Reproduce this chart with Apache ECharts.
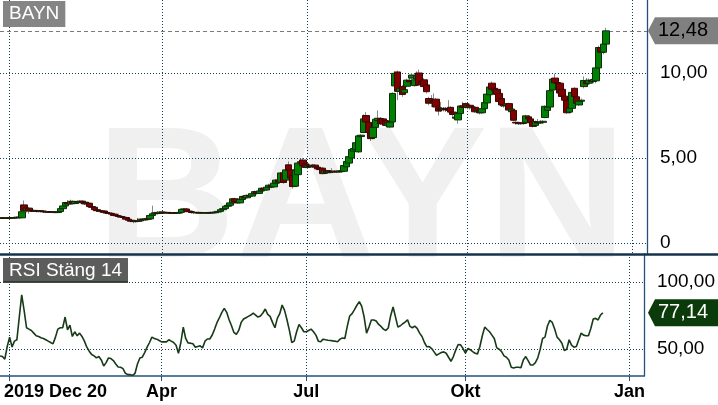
<!DOCTYPE html>
<html><head><meta charset="utf-8">
<script src="https://cdn.jsdelivr.net/npm/echarts@6/dist/echarts.min.js"></script>
<style>html,body{margin:0;padding:0;background:#fff}#c{width:718px;height:405px}</style>
</head><body><div id="c"></div>
<script>
// [open, close, low, high] per trading day from 2019-12-20
const ohlc = [
[1.48,1.46,1.42,1.52],[1.46,1.47,1.43,1.50],[1.47,1.45,1.42,1.50],[1.45,1.48,1.43,1.51],[1.48,1.46,1.43,1.52],
[1.46,1.50,1.44,1.53],[1.50,1.47,1.44,1.54],[1.47,1.52,1.45,1.56],[1.52,1.50,1.46,1.58],[1.48,1.84,1.46,1.90],
[2.24,1.90,1.86,2.50],[1.92,2.05,1.80,2.12],[2.05,1.88,1.72,2.10],[1.88,1.92,1.82,1.98],[1.92,1.86,1.82,1.96],
[1.86,1.90,1.80,1.94],[1.90,1.85,1.80,1.93],[1.85,1.88,1.80,1.92],[1.88,1.84,1.78,1.92],[1.84,1.82,1.76,1.88],
[1.82,1.84,1.78,1.88],[1.84,1.80,1.76,1.87],[1.80,1.82,1.76,1.86],[1.82,1.79,1.75,1.85],[1.79,1.85,1.76,1.88],
[1.85,2.02,1.82,2.05],[2.02,2.18,1.98,2.22],[2.18,2.38,2.12,2.42],[2.38,2.30,2.25,2.52],[2.30,2.45,2.26,2.55],
[2.45,2.32,2.28,2.50],[2.32,2.44,2.28,2.48],[2.44,2.40,2.34,2.50],[2.40,2.46,2.36,2.52],[2.46,2.36,2.32,2.50],
[2.40,2.30,2.26,2.44],[2.30,2.34,2.24,2.40],[2.34,2.14,2.10,2.36],[2.14,2.10,2.04,2.20],[2.10,1.96,1.90,2.12],
[1.96,1.90,1.84,2.00],[1.90,1.86,1.80,1.94],[1.86,1.88,1.78,1.92],[1.88,1.80,1.74,1.92],[1.80,1.76,1.70,1.84],
[1.76,1.74,1.68,1.82],[1.74,1.70,1.66,1.80],[1.70,1.62,1.58,1.74],[1.62,1.60,1.54,1.66],[1.60,1.56,1.52,1.72],
[1.56,1.52,1.48,1.62],[1.52,1.50,1.44,1.58],[1.50,1.40,1.36,1.54],[1.40,1.34,1.28,1.46],[1.34,1.28,1.22,1.40],
[1.28,1.26,1.16,1.34],[1.26,1.30,1.20,1.36],[1.30,1.28,1.22,1.48],[1.30,1.40,1.26,1.44],[1.40,1.36,1.30,1.46],
[1.36,1.42,1.32,1.48],[1.42,1.40,1.34,1.52],[1.42,1.62,1.40,1.66],[1.62,1.72,1.58,2.20],[1.72,1.78,1.66,1.84],
[1.78,1.74,1.68,1.86],[1.74,1.82,1.70,1.86],[1.82,1.78,1.72,1.86],[1.78,1.80,1.74,1.84],[1.80,1.76,1.72,1.84],
[1.76,1.79,1.72,1.83],[1.79,1.75,1.70,1.82],[1.75,1.78,1.72,1.82],[1.78,1.76,1.70,1.80],[1.76,1.80,1.72,1.84],
[1.80,1.98,1.78,2.02],[1.98,2.00,1.90,2.04],[2.00,1.88,1.84,2.02],[1.88,1.84,1.80,1.92],[1.84,1.80,1.74,1.88],
[1.80,1.78,1.72,1.84],[1.78,1.80,1.74,1.82],[1.80,1.76,1.72,1.84],[1.76,1.79,1.73,1.82],[1.79,1.77,1.72,1.83],
[1.77,1.78,1.74,1.82],[1.78,1.76,1.72,1.82],[1.76,1.80,1.73,1.84],[1.80,1.78,1.74,1.84],[1.78,1.82,1.75,1.86],
[1.82,1.86,1.78,1.90],[1.86,1.96,1.82,2.00],[1.96,2.02,1.92,2.06],[2.02,2.16,1.98,2.20],[2.16,2.22,2.10,2.26],
[2.22,2.36,2.18,2.42],[2.36,2.60,2.32,2.64],[2.60,2.42,2.38,2.66],[2.42,2.36,2.32,2.50],[2.36,2.56,2.34,2.60],
[2.56,2.74,2.52,2.80],[2.74,2.66,2.60,2.82],[2.66,2.80,2.62,2.86],[2.80,2.76,2.70,2.88],[2.76,2.90,2.72,2.96],
[2.90,3.02,2.84,3.08],[3.02,2.92,2.86,3.08],[2.92,3.06,2.88,3.12],[3.06,3.22,3.00,3.28],[3.22,3.12,3.04,3.30],
[3.12,3.28,3.08,3.34],[3.28,3.40,3.22,3.48],[3.40,3.30,3.22,3.46],[3.30,3.52,3.26,3.58],[3.52,3.70,3.46,3.76],
[3.70,3.58,3.50,3.80],[3.58,4.12,3.54,4.18],[4.12,3.56,3.48,4.16],[3.70,4.30,3.64,4.40],[4.60,4.28,4.20,4.80],
[4.30,3.82,3.76,4.36],[3.98,3.32,3.20,4.02],[3.34,4.28,3.30,4.34],[4.02,4.70,3.96,4.80],[4.70,4.78,4.62,4.96],
[4.88,4.54,4.48,5.00],[4.66,4.44,4.40,4.72],[4.44,4.56,4.38,4.62],[4.56,4.50,4.44,4.66],[4.50,4.58,4.44,4.64],
[4.58,4.46,4.40,4.62],[4.46,4.36,4.28,4.56],[4.40,4.32,4.26,4.46],[4.40,4.08,4.04,4.44],[4.10,4.26,4.06,4.30],
[4.26,4.14,4.10,4.30],[4.14,4.22,4.10,4.26],[4.22,4.18,4.12,4.40],[4.18,4.22,4.14,4.26],[4.22,4.18,4.12,4.26],
[4.18,4.24,4.14,4.28],[4.24,4.20,4.14,4.30],[4.22,4.56,4.18,4.62],[4.48,4.80,4.42,4.86],[4.70,5.08,4.64,5.14],
[5.00,5.50,4.96,5.56],[5.40,5.56,5.30,5.64],[5.50,5.90,5.40,5.96],[5.36,6.30,5.30,6.36],[6.26,6.34,6.20,6.40],
[6.50,7.30,6.46,7.56],[7.50,7.12,7.00,7.70],[7.10,6.50,6.40,7.20],[6.50,6.14,6.00,6.56],[6.20,6.80,6.10,6.86],
[6.80,7.28,6.72,7.34],[7.20,7.34,7.14,7.80],[7.32,7.02,6.96,7.40],[7.30,7.00,6.94,7.36],[7.20,6.92,6.86,7.24],
[6.92,7.06,6.80,7.14],[6.82,7.10,6.76,7.16],[7.12,8.80,7.06,8.86],[9.24,9.98,9.10,10.10],[10.06,8.92,8.40,10.14],
[8.92,9.10,8.70,9.24],[9.20,8.74,8.60,9.30],[8.84,9.02,8.70,9.10],[9.22,9.58,9.16,9.66],[9.56,9.48,9.30,9.70],
[9.70,9.88,9.62,10.00],[9.26,9.60,9.20,9.70],[9.64,9.86,9.56,10.10],[10.00,9.30,9.24,10.20],[9.50,9.40,9.20,9.70],
[9.60,9.20,9.10,9.70],[9.30,8.90,8.80,9.40],[8.50,8.22,8.10,8.60],[8.30,8.36,8.00,8.70],[8.36,8.28,8.10,8.80],
[8.46,8.00,7.90,8.54],[7.96,7.76,7.50,8.10],[7.90,7.84,7.72,8.30],[7.84,7.92,7.74,8.00],[7.92,7.86,7.70,8.00],
[7.86,7.80,7.70,8.40],[7.98,7.70,7.64,8.04],[7.70,7.56,7.40,7.80],[7.40,7.34,7.28,7.50],[7.24,7.62,7.02,7.66],
[7.62,8.06,7.56,8.12],[8.06,7.98,7.80,8.30],[8.20,8.02,7.90,8.26],[8.00,8.10,7.86,8.16],[8.10,7.96,7.84,8.20],
[7.96,8.00,7.82,8.08],[7.98,7.72,7.66,8.04],[7.72,7.80,7.62,7.86],[7.80,7.66,7.56,7.88],[7.66,7.90,7.60,7.96],
[7.90,8.26,7.84,8.32],[8.24,8.76,8.20,8.82],[8.72,9.18,8.66,9.24],[9.40,9.04,8.96,9.50],[9.10,8.96,8.80,9.20],
[9.04,8.74,8.66,9.10],[8.80,8.32,8.26,8.90],[8.50,8.12,8.00,8.56],[8.14,8.06,7.96,8.20],[8.10,8.18,7.98,8.24],
[8.20,7.82,7.76,8.26],[7.72,7.88,7.66,7.94],[7.80,7.22,7.16,7.86],[7.10,7.06,6.96,7.16],[7.06,7.02,6.94,7.12],
[7.02,7.06,6.96,7.10],[7.06,7.04,6.96,7.12],[7.08,7.48,7.04,7.54],[7.42,7.30,7.20,7.50],[7.30,7.08,7.02,7.36],
[7.14,6.86,6.80,7.20],[6.92,7.14,6.84,7.20],[7.10,7.06,6.96,7.30],[7.06,7.10,7.00,7.22],[7.10,7.16,7.02,7.22],
[7.38,8.04,7.34,8.10],[7.80,8.00,7.74,8.06],[8.00,8.96,7.96,9.04],[9.00,9.64,8.96,9.70],[9.70,9.42,9.36,9.96],
[9.44,9.38,9.30,9.56],[9.40,8.82,8.76,9.46],[9.04,8.62,8.56,9.10],[8.64,8.40,8.30,8.70],[8.40,7.66,7.60,8.46],
[7.70,7.92,7.62,7.98],[7.92,8.86,7.86,8.92],[9.10,8.62,8.56,9.16],[8.60,8.22,8.16,8.66],[8.12,8.34,8.06,8.40],
[8.34,8.40,8.26,8.50],[9.20,9.56,9.10,9.80],[9.50,9.36,9.20,9.70],[9.40,9.58,9.30,9.68],[9.56,9.50,9.40,9.66],
[9.50,9.62,9.40,9.74],[9.54,10.30,9.40,10.50],[10.30,11.50,10.20,11.60],[11.50,11.22,10.90,11.60],[11.22,11.70,11.10,11.90],
[11.70,12.48,11.60,12.66]
];
const rsi = [
45,44.5,42.6,52,59,51.6,56,57,74,90.5,
79,66,65,64,62,60,59.5,58.5,58,57,
56,55,54,59,65,66,66,74,64.5,68,
59.5,63,60,62,59.5,56,51.5,48.5,46,45,
43.5,44.5,42,37.5,40,43.5,43,41.5,39,36.7,
36.5,35.5,32,31,31,30.5,32,39,43.4,44,
47.5,51.5,55,59,58,57.5,56.5,55.5,55.5,55.5,
57,56,55,53,47,55,66.5,58,54.6,54.5,
54,51.5,52,52.5,51,56,57.6,57.6,60.6,65,
70,73.5,77.5,80.5,77.5,72,67.5,62.5,61,64,
70,72.5,73.5,74.5,75.5,77,75.5,74,74.8,77,
80,76,74.5,70,66,73,76.5,83,79,72,
64,55,56,63,68.5,66,63,63,64,65,
63,60.5,56,55.5,57.5,57,56.7,56.5,56.2,56,
55.5,57.5,58.4,58,67,74.8,76.5,79.5,82.8,85.5,
82,74,62,66.5,71.8,71.8,71,68.5,67,65,
64,65.8,75,81.5,74,66.5,67.5,69,70.2,72,
67,66,67.2,65.5,62,59.5,55,51.8,52,50.5,
48,45.5,46.5,47.5,48,47,44,41,44.5,49.5,
53.5,53.2,50.5,47,50.5,49.6,48.2,47,46.5,52,
60,66.5,64.7,63,60.5,57.8,51,50,48.2,45,
44,42,36.6,36,36.5,36.5,36.2,42,44.5,41.5,
38.2,38.2,40,43.5,50,58,59,67.3,71.5,70,
65,59,57,54.5,49,50,57,53,51.5,52,
57,62,60.5,60,60,65.5,72.5,73,71.8,75.5,
77.14
];
const priceTicks = [0, 5, 10];
const rsiTicks = [50, 100];
const monthNames = ['Jan','Feb','Mar','Apr','Maj','Jun','Jul','Aug','Sep','Okt','Nov','Dec'];
const holidays = ['2019-12-24','2019-12-25','2019-12-26','2019-12-31','2020-01-01','2020-01-06',
  '2020-04-10','2020-04-13','2020-05-01','2020-05-21','2020-06-19'];
const startDate = [2019, 11, 20];
const totalSlots = 268;

// trading days for the data, then plain calendar days for the empty future part of the axis
function buildDates() {
  const out = [];
  let t = Date.UTC(startDate[0], startDate[1], startDate[2]);
  while (out.length < totalSlots) {
    const d = new Date(t);
    const wd = d.getUTCDay();
    const s = d.toISOString().slice(0, 10);
    if (out.length >= ohlc.length || (wd !== 0 && wd !== 6 && holidays.indexOf(s) < 0)) out.push(s);
    t += 86400000;
  }
  return out;
}
const dates = buildDates();
function monthOf(i) { return +dates[i].slice(5, 7) - 1; }
function isQuarterStart(i) {
  if (i <= 0) return false;
  const m = monthOf(i);
  return m !== monthOf(i - 1) && m % 3 === 0;
}
function showLabel(i) { return i === 0 || (isQuarterStart(i) && i > 20); }
function fmt(v) { return v === 0 ? '0' : v.toFixed(2).replace('.', ','); }

const FONT = '"Liberation Sans", Arial, sans-serif';
const gridColor = '#173f52';
const axisBlue = '#26507c';
const lastClose = ohlc[ohlc.length - 1][1];
const lastRsi = rsi[rsi.length - 1];
const bodies = ohlc.map(r => [r[0], r[1], Math.min(r[0], r[1]), Math.max(r[0], r[1])]);
const dotted = { color: gridColor, type: [1, 2], width: 1 };

const chart = echarts.init(document.getElementById('c'), null, { renderer: 'canvas' });
chart.setOption({
  animation: false,
  backgroundColor: '#ffffff',
  title: [
    { text: 'BAYN', left: 3, top: 1, backgroundColor: '#858585', padding: [3, 6, 3, 6],
      textStyle: { color: '#ffffff', fontSize: 19, fontWeight: 'normal', fontFamily: FONT, lineHeight: 20 } },
    { text: 'RSI Stäng 14', left: 3, top: 258, backgroundColor: '#5c5c5c', padding: [3, 6, 2, 6],
      textStyle: { color: '#ffffff', fontSize: 19, fontWeight: 'normal', fontFamily: FONT, lineHeight: 20 } }
  ],
  grid: [
    { left: 0, right: 71, top: 0, height: 254 },
    { left: 0, right: 71, top: 254, height: 122 }
  ],
  xAxis: [
    { type: 'category', gridIndex: 0, data: dates, boundaryGap: false,
      axisLine: { show: false, onZero: false }, axisTick: { show: false }, axisLabel: { show: false },
      splitLine: { show: true, interval: (i) => isQuarterStart(i), lineStyle: dotted } },
    { type: 'category', gridIndex: 1, data: dates, boundaryGap: false,
      axisLine: { show: true, onZero: false, lineStyle: { color: axisBlue, width: 1.5 } },
      axisTick: { show: true, interval: (i) => isQuarterStart(i), length: 5, lineStyle: { color: axisBlue, width: 1 } },
      axisLabel: { show: true, interval: (i) => showLabel(i), margin: 7, alignMinLabel: 'left',
        color: '#000', fontSize: 18, fontWeight: 'bold', fontFamily: FONT,
        formatter: (v, i) => {
          const m = +v.slice(5, 7) - 1;
          if (i === 0) return '{f|' + v.slice(0, 4) + ' ' + monthNames[m] + ' ' + (+v.slice(8, 10)) + '}';
          return monthNames[m];
        },
        rich: { f: { color: '#000', fontSize: 18, fontWeight: 'bold', fontFamily: FONT, padding: [0, 0, 0, 4] } } },
      splitLine: { show: true, interval: (i) => isQuarterStart(i), lineStyle: dotted } }
  ],
  yAxis: [
    { type: 'value', gridIndex: 0, position: 'right', min: -11 / 17, max: 243 / 17,
      axisLine: { show: true, onZero: false, lineStyle: { color: axisBlue, width: 1.3 } },
      axisTick: { show: false }, splitLine: { show: false },
      axisLabel: { customValues: priceTicks, formatter: fmt, color: '#000', fontSize: 19, fontFamily: FONT, margin: 13 } },
    { type: 'value', gridIndex: 1, position: 'right', min: 30, max: 30 + 122 / 1.34,
      axisLine: { show: true, onZero: false, lineStyle: { color: axisBlue, width: 1.3 } },
      axisTick: { show: false }, splitLine: { show: false },
      axisLabel: { customValues: rsiTicks, formatter: fmt, color: '#000', fontSize: 19, fontFamily: FONT, margin: 13 } }
  ],
  graphic: [
    { id: 'wm', type: 'text', z: -1, silent: true, x: 96, y: 205, scaleX: 1.03,
      style: { text: 'BAYN', fontSize: 188, fontWeight: 'bold', fontFamily: FONT, fill: '#f0f0f0',
        align: 'left', verticalAlign: 'middle' } },
    { id: 'sep', type: 'rect', z: 10, silent: true, shape: { x: 0, y: 253.2, width: 718, height: 2.6 },
      style: { fill: '#17324b' } },
    { id: 'rsiUnder', type: 'rect', z: 10, silent: true, shape: { x: 3, y: 281, width: 125, height: 1.5 },
      style: { fill: '#2d3d2d' } }
  ],
  series: [
    { type: 'candlestick', name: 'wick', xAxisIndex: 0, yAxisIndex: 0, data: ohlc, barWidth: 0.1, z: 2,
      itemStyle: { color: '#8a8a8a', color0: '#8a8a8a', borderColor: '#8a8a8a', borderColor0: '#8a8a8a', borderWidth: 1 },
      markLine: { z: 1, silent: true, symbol: ['none', 'none'], label: { show: false },
        data: [{ yAxis: lastClose, lineStyle: { color: '#7a7a7a', type: [4, 3], width: 1 } }] } },
    { type: 'candlestick', name: 'BAYN', xAxisIndex: 0, yAxisIndex: 0, data: bodies, barWidth: 7, z: 3,
      itemStyle: { color: '#008000', color0: '#800000', borderColor: '#0b2e0b', borderColor0: '#3a0707', borderWidth: 1 },
      markLine: { z: 1, silent: true, symbol: ['none', 'none'], label: { show: false },
        data: priceTicks.map(v => ({ yAxis: v, lineStyle: dotted })) } },
    { type: 'line', name: 'RSI', xAxisIndex: 1, yAxisIndex: 1, data: rsi, symbol: 'none', z: 3,
      lineStyle: { color: '#173a17', width: 1.6 },
      markLine: { z: 1, silent: true, symbol: ['none', 'none'], label: { show: false },
        data: rsiTicks.map(v => ({ yAxis: v, lineStyle: dotted })) } }
  ]
});

const yP = chart.convertToPixel({ yAxisIndex: 0 }, lastClose);
const yR = chart.convertToPixel({ yAxisIndex: 1 }, lastRsi);
function arrow(id, y, fill, textColor, txt) {
  const h = 13.5;
  return [
    { id: id + 'b', type: 'polygon', z: 20, silent: true,
      shape: { points: [[648, y], [655, y - h], [718, y - h], [718, y + h], [655, y + h]] },
      style: { fill: fill } },
    { id: id + 't', type: 'text', z: 21, silent: true, x: 658, y: y,
      style: { text: txt, fontSize: 20, fontFamily: FONT, fill: textColor, align: 'left', verticalAlign: 'middle' } }
  ];
}
chart.setOption({
  graphic: [].concat(
    arrow('p', yP, '#808080', '#000000', fmt(lastClose)),
    arrow('r', yR, '#0b3a0b', '#ffffff', fmt(lastRsi))
  )
});
</script>
</body></html>
